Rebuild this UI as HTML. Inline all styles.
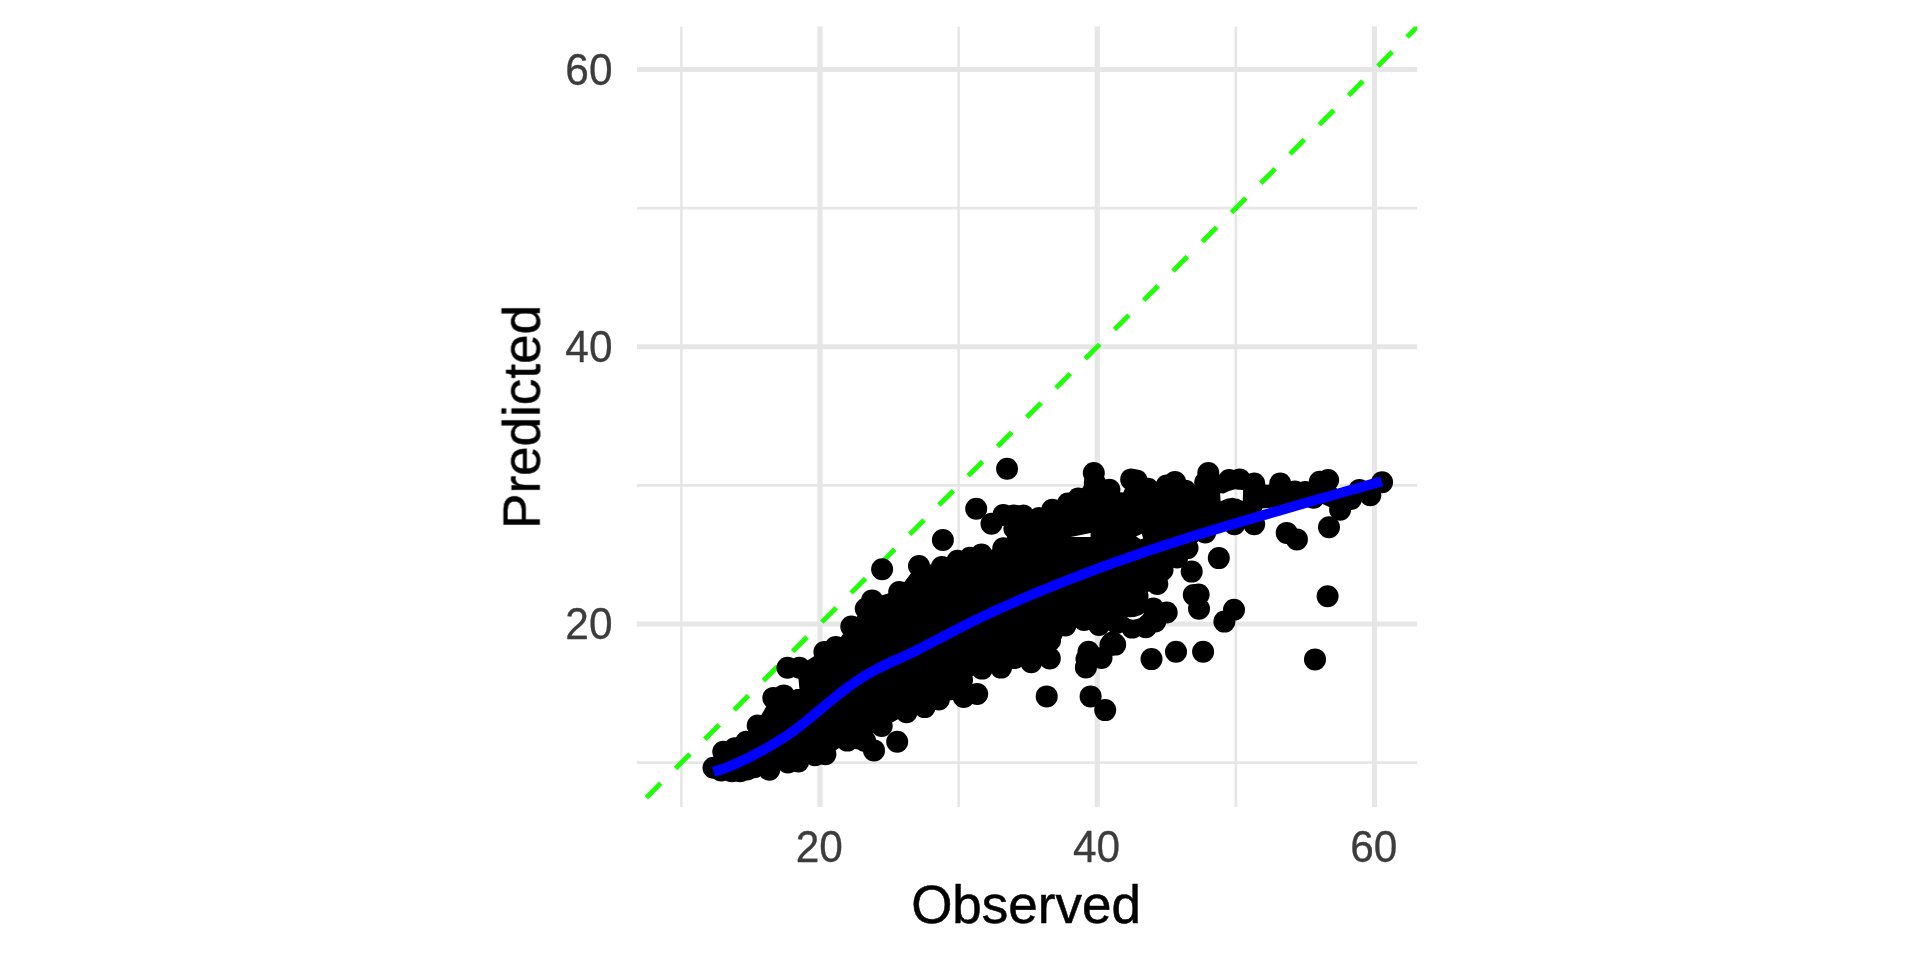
<!DOCTYPE html>
<html><head><meta charset="utf-8"><title>Observed vs Predicted</title>
<style>
html,body{margin:0;padding:0;background:#fff;width:1920px;height:960px;overflow:hidden;font-family:"Liberation Sans",sans-serif;}
</style></head>
<body>
<svg width="1920" height="960" viewBox="0 0 1920 960" style="position:absolute;left:0;top:0">
<rect width="1920" height="960" fill="#fff"/>
<line x1="681.38" y1="26.6" x2="681.38" y2="807.0" stroke="#E6E6E6" stroke-width="2.6"/>
<line x1="637.0" y1="762.62" x2="1417.2" y2="762.62" stroke="#E6E6E6" stroke-width="2.6"/>
<line x1="958.62" y1="26.6" x2="958.62" y2="807.0" stroke="#E6E6E6" stroke-width="2.6"/>
<line x1="637.0" y1="485.38" x2="1417.2" y2="485.38" stroke="#E6E6E6" stroke-width="2.6"/>
<line x1="1235.88" y1="26.6" x2="1235.88" y2="807.0" stroke="#E6E6E6" stroke-width="2.6"/>
<line x1="637.0" y1="208.12" x2="1417.2" y2="208.12" stroke="#E6E6E6" stroke-width="2.6"/>
<line x1="820.00" y1="26.6" x2="820.00" y2="807.0" stroke="#E6E6E6" stroke-width="5.2"/>
<line x1="637.0" y1="624.00" x2="1417.2" y2="624.00" stroke="#E6E6E6" stroke-width="5.2"/>
<line x1="1097.25" y1="26.6" x2="1097.25" y2="807.0" stroke="#E6E6E6" stroke-width="5.2"/>
<line x1="637.0" y1="346.75" x2="1417.2" y2="346.75" stroke="#E6E6E6" stroke-width="5.2"/>
<line x1="1374.50" y1="26.6" x2="1374.50" y2="807.0" stroke="#E6E6E6" stroke-width="5.2"/>
<line x1="637.0" y1="69.50" x2="1417.2" y2="69.50" stroke="#E6E6E6" stroke-width="5.2"/>
<clipPath id="pc"><rect x="637.0" y="26.6" width="780.2" height="780.4"/></clipPath>
<g clip-path="url(#pc)">
<line x1="646.3" y1="797.7" x2="1422.2" y2="21.799999999999955" stroke="#1FFF08" stroke-width="4.9" stroke-dasharray="20.4 20.98"/>
<path d="M713.5,767.7 L723.3,751.7 L734.8,748.3 L746.2,741.7 L757.7,725.6 L773.3,697.9 L783.8,695.4 L801.5,689.5 L799.4,667.7 L824.4,652.1 L835.8,646.9 L851.3,626.6 L865.8,608.8 L872.1,600.4 L899.2,592.1 L919.0,566.0 L941.9,567.1 L957.5,560.8 L970.0,557.7 L981.5,554.6 L1003.3,548.3 L1014.4,528.5 L1003.3,515.0 L1013.8,515.4 L1023.1,515.4 L1038.8,518.1 L1052.3,509.8 L1067.9,503.5 L1078.3,498.5 L1093.8,473.1 L1094.8,482.5 L1109.4,489.8 L1120.8,503.3 L1131.2,479.4 L1136.5,480.4 L1147.9,488.8 L1166.7,485.6 L1175.0,481.9 L1185.4,490.8 L1205.2,482.5 L1208.3,473.1 L1229.2,480.0 L1239.6,479.4 L1254.2,483.6 L1267.2,487.0 L1280.2,483.6 L1294.8,491.6 L1305.2,492.1 L1319.8,481.7 L1328.1,480.1 L1338.0,493.5 L1350.0,490.5 L1359.4,490.0 L1382.1,482.2 L1370.3,495.2 L1351.0,498.9 L1340.1,509.8 L1313.5,497.8 L1290.0,500.5 L1274.0,505.5 L1261.0,506.5 L1254.2,524.3 L1234.4,524.2 L1205.2,532.5 L1187.5,548.1 L1177.1,557.5 L1162.5,570.0 L1157.3,584.0 L1137.5,596.0 L1136.5,605.0 L1153.3,608.5 L1166.7,612.5 L1155.2,621.5 L1145.8,627.3 L1132.1,627.6 L1099.0,625.0 L1084.0,620.0 L1065.3,625.5 L1052.0,633.0 L1050.0,640.4 L1049.8,658.4 L1031.2,662.3 L1014.6,658.1 L1001.0,667.6 L982.0,668.6 L962.0,680.0 L977.2,694.0 L963.7,697.0 L938.8,699.4 L924.7,707.1 L906.5,712.2 L881.7,726.0 L858.8,738.5 L847.3,740.6 L825.4,754.2 L815.0,755.2 L798.3,761.5 L787.9,762.5 L769.2,769.8 L740.0,771.2 L731.7,771.2 L721.2,770.4Z" fill="#000" stroke="#000" stroke-width="4" stroke-linejoin="round"/>
<circle cx="713.5" cy="767.7" r="11.0" fill="#000"/>
<circle cx="723.3" cy="751.7" r="11.0" fill="#000"/>
<circle cx="734.8" cy="748.3" r="11.0" fill="#000"/>
<circle cx="746.2" cy="741.7" r="11.0" fill="#000"/>
<circle cx="757.7" cy="725.6" r="11.0" fill="#000"/>
<circle cx="773.3" cy="697.9" r="11.0" fill="#000"/>
<circle cx="783.8" cy="695.4" r="11.0" fill="#000"/>
<circle cx="799.4" cy="667.7" r="11.0" fill="#000"/>
<circle cx="824.4" cy="652.1" r="11.0" fill="#000"/>
<circle cx="835.8" cy="646.9" r="11.0" fill="#000"/>
<circle cx="851.3" cy="626.6" r="11.0" fill="#000"/>
<circle cx="865.8" cy="608.8" r="11.0" fill="#000"/>
<circle cx="872.1" cy="600.4" r="11.0" fill="#000"/>
<circle cx="899.2" cy="592.1" r="11.0" fill="#000"/>
<circle cx="919.0" cy="566.0" r="11.0" fill="#000"/>
<circle cx="941.9" cy="567.1" r="11.0" fill="#000"/>
<circle cx="957.5" cy="560.8" r="11.0" fill="#000"/>
<circle cx="970.0" cy="557.7" r="11.0" fill="#000"/>
<circle cx="981.5" cy="554.6" r="11.0" fill="#000"/>
<circle cx="1003.3" cy="548.3" r="11.0" fill="#000"/>
<circle cx="1014.4" cy="528.5" r="11.0" fill="#000"/>
<circle cx="1003.3" cy="515.0" r="11.0" fill="#000"/>
<circle cx="1013.8" cy="515.4" r="11.0" fill="#000"/>
<circle cx="1023.1" cy="515.4" r="11.0" fill="#000"/>
<circle cx="1038.8" cy="518.1" r="11.0" fill="#000"/>
<circle cx="1052.3" cy="509.8" r="11.0" fill="#000"/>
<circle cx="1067.9" cy="503.5" r="11.0" fill="#000"/>
<circle cx="1078.3" cy="498.5" r="11.0" fill="#000"/>
<circle cx="1093.8" cy="473.1" r="11.0" fill="#000"/>
<circle cx="1094.8" cy="482.5" r="11.0" fill="#000"/>
<circle cx="1109.4" cy="489.8" r="11.0" fill="#000"/>
<circle cx="1120.8" cy="503.3" r="11.0" fill="#000"/>
<circle cx="1131.2" cy="479.4" r="11.0" fill="#000"/>
<circle cx="1136.5" cy="480.4" r="11.0" fill="#000"/>
<circle cx="1147.9" cy="488.8" r="11.0" fill="#000"/>
<circle cx="1166.7" cy="485.6" r="11.0" fill="#000"/>
<circle cx="1175.0" cy="481.9" r="11.0" fill="#000"/>
<circle cx="1185.4" cy="490.8" r="11.0" fill="#000"/>
<circle cx="1205.2" cy="482.5" r="11.0" fill="#000"/>
<circle cx="1208.3" cy="473.1" r="11.0" fill="#000"/>
<circle cx="1229.2" cy="480.0" r="11.0" fill="#000"/>
<circle cx="1239.6" cy="479.4" r="11.0" fill="#000"/>
<circle cx="1254.2" cy="483.6" r="11.0" fill="#000"/>
<circle cx="1280.2" cy="483.6" r="11.0" fill="#000"/>
<circle cx="1294.8" cy="491.6" r="11.0" fill="#000"/>
<circle cx="1305.2" cy="492.1" r="11.0" fill="#000"/>
<circle cx="1319.8" cy="481.7" r="11.0" fill="#000"/>
<circle cx="1328.1" cy="480.1" r="11.0" fill="#000"/>
<circle cx="1359.4" cy="490.0" r="11.0" fill="#000"/>
<circle cx="1382.1" cy="482.2" r="11.0" fill="#000"/>
<circle cx="1370.3" cy="495.2" r="11.0" fill="#000"/>
<circle cx="1351.0" cy="498.9" r="11.0" fill="#000"/>
<circle cx="1340.1" cy="509.8" r="11.0" fill="#000"/>
<circle cx="1313.5" cy="497.8" r="11.0" fill="#000"/>
<circle cx="1254.2" cy="524.3" r="11.0" fill="#000"/>
<circle cx="1234.4" cy="524.2" r="11.0" fill="#000"/>
<circle cx="1205.2" cy="532.5" r="11.0" fill="#000"/>
<circle cx="1187.5" cy="548.1" r="11.0" fill="#000"/>
<circle cx="1177.1" cy="557.5" r="11.0" fill="#000"/>
<circle cx="1162.5" cy="570.0" r="11.0" fill="#000"/>
<circle cx="1157.3" cy="584.0" r="11.0" fill="#000"/>
<circle cx="1137.5" cy="596.0" r="11.0" fill="#000"/>
<circle cx="1136.5" cy="605.0" r="11.0" fill="#000"/>
<circle cx="1153.3" cy="608.5" r="11.0" fill="#000"/>
<circle cx="1166.7" cy="612.5" r="11.0" fill="#000"/>
<circle cx="1155.2" cy="621.5" r="11.0" fill="#000"/>
<circle cx="1145.8" cy="627.3" r="11.0" fill="#000"/>
<circle cx="1132.1" cy="627.6" r="11.0" fill="#000"/>
<circle cx="1099.0" cy="625.0" r="11.0" fill="#000"/>
<circle cx="1084.0" cy="620.0" r="11.0" fill="#000"/>
<circle cx="1065.3" cy="625.5" r="11.0" fill="#000"/>
<circle cx="1052.0" cy="633.0" r="11.0" fill="#000"/>
<circle cx="1050.0" cy="640.4" r="11.0" fill="#000"/>
<circle cx="1049.8" cy="658.4" r="11.0" fill="#000"/>
<circle cx="1031.2" cy="662.3" r="11.0" fill="#000"/>
<circle cx="1014.6" cy="658.1" r="11.0" fill="#000"/>
<circle cx="1001.0" cy="667.6" r="11.0" fill="#000"/>
<circle cx="982.0" cy="668.6" r="11.0" fill="#000"/>
<circle cx="962.0" cy="680.0" r="11.0" fill="#000"/>
<circle cx="977.2" cy="694.0" r="11.0" fill="#000"/>
<circle cx="963.7" cy="697.0" r="11.0" fill="#000"/>
<circle cx="938.8" cy="699.4" r="11.0" fill="#000"/>
<circle cx="924.7" cy="707.1" r="11.0" fill="#000"/>
<circle cx="906.5" cy="712.2" r="11.0" fill="#000"/>
<circle cx="881.7" cy="726.0" r="11.0" fill="#000"/>
<circle cx="858.8" cy="738.5" r="11.0" fill="#000"/>
<circle cx="847.3" cy="740.6" r="11.0" fill="#000"/>
<circle cx="825.4" cy="754.2" r="11.0" fill="#000"/>
<circle cx="815.0" cy="755.2" r="11.0" fill="#000"/>
<circle cx="798.3" cy="761.5" r="11.0" fill="#000"/>
<circle cx="787.9" cy="762.5" r="11.0" fill="#000"/>
<circle cx="769.2" cy="769.8" r="11.0" fill="#000"/>
<circle cx="740.0" cy="771.2" r="11.0" fill="#000"/>
<circle cx="731.7" cy="771.2" r="11.0" fill="#000"/>
<circle cx="721.2" cy="770.4" r="11.0" fill="#000"/>
<circle cx="1116.5" cy="623.0" r="11.0" fill="#000"/>
<circle cx="754.2" cy="767.3" r="11.0" fill="#000"/>
<circle cx="747.0" cy="769.5" r="11.0" fill="#000"/>
<circle cx="991.5" cy="523.8" r="11.0" fill="#000"/>
<circle cx="865.1" cy="741.0" r="11.0" fill="#000"/>
<circle cx="787.5" cy="667.7" r="11.0" fill="#000"/>
<circle cx="882.1" cy="569.2" r="11.0" fill="#000"/>
<circle cx="942.9" cy="540.0" r="11.0" fill="#000"/>
<circle cx="976.2" cy="508.8" r="11.0" fill="#000"/>
<circle cx="1007.1" cy="468.8" r="11.0" fill="#000"/>
<circle cx="874.0" cy="750.4" r="11.0" fill="#000"/>
<circle cx="897.2" cy="741.8" r="11.0" fill="#000"/>
<circle cx="1329.0" cy="527.3" r="11.0" fill="#000"/>
<circle cx="1286.7" cy="532.9" r="11.0" fill="#000"/>
<circle cx="1296.9" cy="539.4" r="11.0" fill="#000"/>
<circle cx="1218.8" cy="558.1" r="11.0" fill="#000"/>
<circle cx="1191.7" cy="571.6" r="11.0" fill="#000"/>
<circle cx="1193.8" cy="594.9" r="11.0" fill="#000"/>
<circle cx="1198.6" cy="594.5" r="11.0" fill="#000"/>
<circle cx="1199.0" cy="608.8" r="11.0" fill="#000"/>
<circle cx="1234.0" cy="609.8" r="11.0" fill="#000"/>
<circle cx="1224.4" cy="621.6" r="11.0" fill="#000"/>
<circle cx="1327.6" cy="596.2" r="11.0" fill="#000"/>
<circle cx="1315.0" cy="659.4" r="11.0" fill="#000"/>
<circle cx="1203.1" cy="651.8" r="11.0" fill="#000"/>
<circle cx="1176.0" cy="651.8" r="11.0" fill="#000"/>
<circle cx="1151.5" cy="659.1" r="11.0" fill="#000"/>
<circle cx="1112.5" cy="642.4" r="11.0" fill="#000"/>
<circle cx="1115.2" cy="644.6" r="11.0" fill="#000"/>
<circle cx="1110.4" cy="645.0" r="11.0" fill="#000"/>
<circle cx="1088.5" cy="651.8" r="11.0" fill="#000"/>
<circle cx="1101.5" cy="658.0" r="11.0" fill="#000"/>
<circle cx="1086.5" cy="659.1" r="11.0" fill="#000"/>
<circle cx="1085.9" cy="667.4" r="11.0" fill="#000"/>
<circle cx="1046.7" cy="696.4" r="11.0" fill="#000"/>
<circle cx="1090.6" cy="696.4" r="11.0" fill="#000"/>
<circle cx="1105.2" cy="710.1" r="11.0" fill="#000"/>
<clipPath id="h0"><path d="M1220.1,493.3 L1223.8,493.4 Q1228,491.2 1234,489.5 L1243.1,490.0 L1242.8,500.9 Q1238.5,498.2 1232.5,497.8 Q1226.5,498.2 1220.6,501.3 Z"/></clipPath>
<g clip-path="url(#h0)"><rect x="637.0" y="26.6" width="780.2" height="780.4" fill="#fff"/>
<line x1="681.38" y1="26.6" x2="681.38" y2="807.0" stroke="#E6E6E6" stroke-width="2.6"/>
<line x1="958.62" y1="26.6" x2="958.62" y2="807.0" stroke="#E6E6E6" stroke-width="2.6"/>
<line x1="1235.88" y1="26.6" x2="1235.88" y2="807.0" stroke="#E6E6E6" stroke-width="2.6"/>
</g>
<clipPath id="h1"><path d="M1070.8,537.0 Q1080,535.2 1090.6,533.0 L1090.6,537.0 Q1080,536.9 1070.8,537.0 Z"/></clipPath>
<g clip-path="url(#h1)"><rect x="637.0" y="26.6" width="780.2" height="780.4" fill="#fff"/>
<line x1="681.38" y1="26.6" x2="681.38" y2="807.0" stroke="#E6E6E6" stroke-width="2.6"/>
<line x1="958.62" y1="26.6" x2="958.62" y2="807.0" stroke="#E6E6E6" stroke-width="2.6"/>
<line x1="1235.88" y1="26.6" x2="1235.88" y2="807.0" stroke="#E6E6E6" stroke-width="2.6"/>
</g>
<clipPath id="h2"><path d="M1136.0,536.6 L1141.8,533.8 L1143.2,538.6 L1140.5,539.2 Z"/></clipPath>
<g clip-path="url(#h2)"><rect x="637.0" y="26.6" width="780.2" height="780.4" fill="#fff"/>
<line x1="681.38" y1="26.6" x2="681.38" y2="807.0" stroke="#E6E6E6" stroke-width="2.6"/>
<line x1="958.62" y1="26.6" x2="958.62" y2="807.0" stroke="#E6E6E6" stroke-width="2.6"/>
<line x1="1235.88" y1="26.6" x2="1235.88" y2="807.0" stroke="#E6E6E6" stroke-width="2.6"/>
</g>
<clipPath id="h3"><path d="M1126.9,617.0 Q1137,618.2 1144.3,612.8 Q1141.5,618.8 1133,619.8 Q1129,619.4 1126.9,617.0 Z"/></clipPath>
<g clip-path="url(#h3)"><rect x="637.0" y="26.6" width="780.2" height="780.4" fill="#fff"/>
<line x1="681.38" y1="26.6" x2="681.38" y2="807.0" stroke="#E6E6E6" stroke-width="2.6"/>
<line x1="958.62" y1="26.6" x2="958.62" y2="807.0" stroke="#E6E6E6" stroke-width="2.6"/>
<line x1="1235.88" y1="26.6" x2="1235.88" y2="807.0" stroke="#E6E6E6" stroke-width="2.6"/>
</g>
<path d="M713.50,771.59 C714.92,771.18 718.58,770.30 722.00,769.12 C725.42,767.94 730.00,766.22 734.00,764.52 C738.00,762.83 742.00,760.91 746.00,758.95 C750.00,756.98 754.00,754.89 758.00,752.75 C762.00,750.60 766.00,748.41 770.00,746.08 C774.00,743.75 778.00,741.35 782.00,738.76 C786.00,736.17 790.00,733.45 794.00,730.54 C798.00,727.63 802.00,724.49 806.00,721.30 C810.00,718.11 814.00,714.72 818.00,711.40 C822.00,708.07 826.00,704.64 830.00,701.37 C834.00,698.09 838.00,694.82 842.00,691.73 C846.00,688.65 850.00,685.66 854.00,682.87 C858.00,680.09 862.00,677.44 866.00,675.03 C870.00,672.62 874.00,670.47 878.00,668.41 C882.00,666.36 886.00,664.57 890.00,662.72 C894.00,660.87 898.00,659.16 902.00,657.31 C906.00,655.47 910.00,653.58 914.00,651.62 C918.00,649.66 922.00,647.61 926.00,645.55 C930.00,643.49 934.00,641.37 938.00,639.27 C942.00,637.17 946.00,635.03 950.00,632.94 C954.00,630.85 958.00,628.75 962.00,626.72 C966.00,624.69 970.00,622.69 974.00,620.74 C978.00,618.78 982.00,616.86 986.00,614.98 C990.00,613.09 994.00,611.25 998.00,609.43 C1002.00,607.61 1006.00,605.82 1010.00,604.06 C1014.00,602.30 1018.00,600.57 1022.00,598.85 C1026.00,597.14 1030.00,595.46 1034.00,593.79 C1038.00,592.12 1042.00,590.47 1046.00,588.84 C1050.00,587.21 1054.00,585.59 1058.00,584.00 C1062.00,582.40 1066.00,580.82 1070.00,579.26 C1074.00,577.69 1078.00,576.15 1082.00,574.62 C1086.00,573.09 1090.00,571.58 1094.00,570.09 C1098.00,568.59 1102.00,567.11 1106.00,565.65 C1110.00,564.19 1114.00,562.74 1118.00,561.32 C1122.00,559.89 1126.00,558.47 1130.00,557.08 C1134.00,555.68 1138.00,554.30 1142.00,552.93 C1146.00,551.57 1150.00,550.22 1154.00,548.89 C1158.00,547.55 1162.00,546.23 1166.00,544.92 C1170.00,543.62 1174.00,542.32 1178.00,541.04 C1182.00,539.76 1186.00,538.49 1190.00,537.23 C1194.00,535.97 1198.00,534.73 1202.00,533.49 C1206.00,532.25 1210.00,531.02 1214.00,529.80 C1218.00,528.58 1222.00,527.37 1226.00,526.17 C1230.00,524.96 1234.00,523.77 1238.00,522.58 C1242.00,521.39 1246.00,520.21 1250.00,519.03 C1254.00,517.85 1258.00,516.68 1262.00,515.51 C1266.00,514.34 1270.00,513.17 1274.00,512.01 C1278.00,510.85 1282.00,509.70 1286.00,508.54 C1290.00,507.39 1294.00,506.24 1298.00,505.09 C1302.00,503.95 1306.00,502.81 1310.00,501.66 C1314.00,500.52 1318.00,499.39 1322.00,498.25 C1326.00,497.11 1330.00,495.98 1334.00,494.84 C1338.00,493.71 1342.00,492.58 1346.00,491.45 C1350.00,490.32 1354.00,489.19 1358.00,488.06 C1362.00,486.93 1366.05,485.79 1370.00,484.67 C1373.95,483.56 1379.75,481.92 1381.70,481.37" fill="none" stroke="#0000FF" stroke-width="10.2" stroke-linecap="butt" stroke-linejoin="round"/>
</g>
<g opacity="0.999">
<text transform="translate(612.5,639.40) scale(1,1.045)" font-family="'Liberation Sans', sans-serif" font-size="42.4" fill="#3C3C3C" stroke="#3C3C3C" stroke-width="0.3" text-anchor="end">20</text>
<text transform="translate(819.20,862.0) scale(1,1.045)" font-family="'Liberation Sans', sans-serif" font-size="42.4" fill="#3C3C3C" stroke="#3C3C3C" stroke-width="0.3" text-anchor="middle">20</text>
<text transform="translate(612.5,362.15) scale(1,1.045)" font-family="'Liberation Sans', sans-serif" font-size="42.4" fill="#3C3C3C" stroke="#3C3C3C" stroke-width="0.3" text-anchor="end">40</text>
<text transform="translate(1096.45,862.0) scale(1,1.045)" font-family="'Liberation Sans', sans-serif" font-size="42.4" fill="#3C3C3C" stroke="#3C3C3C" stroke-width="0.3" text-anchor="middle">40</text>
<text transform="translate(612.5,84.90) scale(1,1.045)" font-family="'Liberation Sans', sans-serif" font-size="42.4" fill="#3C3C3C" stroke="#3C3C3C" stroke-width="0.3" text-anchor="end">60</text>
<text transform="translate(1373.70,862.0) scale(1,1.045)" font-family="'Liberation Sans', sans-serif" font-size="42.4" fill="#3C3C3C" stroke="#3C3C3C" stroke-width="0.3" text-anchor="middle">60</text>
<text transform="translate(1026,923.2) scale(1,1.02)" font-family="'Liberation Sans', sans-serif" font-size="53" fill="#000" stroke="#000" stroke-width="0.5" text-anchor="middle">Observed</text>
<text transform="translate(539.9,416.9) rotate(-90) scale(1,0.985)" font-family="'Liberation Sans', sans-serif" font-size="53" fill="#000" stroke="#000" stroke-width="0.5" text-anchor="middle">Predicted</text>
</g>
</svg>
</body></html>
